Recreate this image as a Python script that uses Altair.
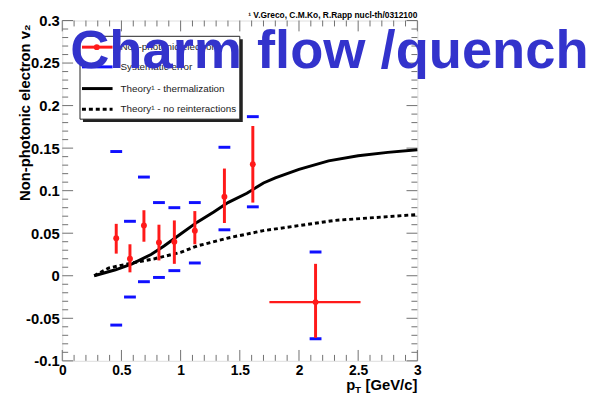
import altair as alt
import pandas as pd

W, H = 360, 345
FONT = "Liberation Sans"

# ---- data ----
pt      = [0.456, 0.572, 0.69, 0.817, 0.947, 1.12, 1.37, 1.61, 2.14]
v2      = [0.044, 0.020, 0.059, 0.039, 0.040, 0.053, 0.093, 0.131, -0.031]
stat_lo = [0.026, 0.004, 0.040, 0.018, 0.014, 0.037, 0.062, 0.086, -0.073]
stat_hi = [0.061, 0.037, 0.077, 0.060, 0.065, 0.076, 0.126, 0.176, 0.014]
pt_lo   = [0.456, 0.572, 0.69, 0.817, 0.947, 1.12, 1.37, 1.61, 1.75]
pt_hi   = [0.456, 0.572, 0.69, 0.817, 0.947, 1.12, 1.37, 1.61, 2.52]
sys_lo  = [-0.058, -0.025, -0.007, -0.002, 0.006, 0.015, 0.054, 0.081, -0.074]
sys_hi  = [0.146, 0.064, 0.116, 0.086, 0.080, 0.086, 0.151, 0.187, 0.028]

th_pt = [0.27, 0.45, 0.59, 0.75, 0.86, 1.0, 1.14, 1.28, 1.4, 1.56, 1.7, 1.8, 2.0, 2.25, 2.5, 2.75, 3.0]
th_v2 = [0.0, 0.007, 0.014, 0.025, 0.035, 0.049, 0.063, 0.075, 0.086, 0.097, 0.109, 0.115, 0.125, 0.135, 0.141, 0.145, 0.148]

nr_pt = [0.27, 0.39, 0.59, 0.78, 1.0, 1.14, 1.42, 1.7, 1.95, 2.3, 2.6, 3.0]
nr_v2 = [0.0, 0.009, 0.015, 0.020, 0.0275, 0.035, 0.045, 0.053, 0.058, 0.065, 0.068, 0.072]

x_major = [0, 0.5, 1, 1.5, 2, 2.5, 3]
y_major = [-0.1, -0.05, 0, 0.05, 0.1, 0.15, 0.2, 0.25, 0.3]
x_minor = [round(i * 0.1, 2) for i in range(31) if i % 5 != 0]
y_minor = [round(-0.1 + i * 0.01, 3) for i in range(41) if i % 5 != 0]

legend_labels = ["Non-photonic electrons", "Systematic error",
                 "Theory¹ - thermalization", "Theory¹ - no reinteractions"]

RED = "#ff1a1a"
BLUE = "#1010ff"
FRAME = "#707070"

xs = alt.Scale(domain=[0, 3], nice=False, zero=False)
ys = alt.Scale(domain=[-0.1, 0.3], nice=False, zero=False)

xaxis = alt.Axis(values=x_major, labelExpr="'' + datum.value", ticks=False, tickSize=0,
                 domain=False, grid=False, labelFont=FONT, labelFontSize=14,
                 labelFontWeight="bold", labelColor="black", labelPadding=3,
                 labelFlush=False, labelOverlap=False, title=None)
yaxis = alt.Axis(values=y_major, labelExpr="'' + datum.value", ticks=False, tickSize=0,
                 domain=False, grid=False, labelFont=FONT, labelFontSize=15,
                 labelFontWeight="bold", labelColor="black", labelPadding=3,
                 labelFlush=False, labelOverlap=False, title=None)


def X(f):
    return alt.X(f, type="quantitative", scale=xs, axis=xaxis)


def Y(f):
    return alt.Y(f, type="quantitative", scale=ys, axis=yaxis)


one = pd.DataFrame({"d": [0]})
layers = []

# ---- inward ROOT-style ticks ----
def xticks(vals, length):
    df = pd.DataFrame({"v": vals})
    base = alt.Chart(df).mark_rule(color=FRAME, strokeWidth=1)
    return [base.encode(x=X("v"), y=alt.value(H), y2=alt.value(H - length)),
            base.encode(x=X("v"), y=alt.value(0), y2=alt.value(length))]


def yticks(vals, length):
    df = pd.DataFrame({"v": vals})
    base = alt.Chart(df).mark_rule(color=FRAME, strokeWidth=1)
    return [base.encode(y=Y("v"), x=alt.value(0), x2=alt.value(length)),
            base.encode(y=Y("v"), x=alt.value(W), x2=alt.value(W - length))]


layers += xticks(x_major, 11) + xticks(x_minor, 6)
layers += yticks(y_major, 11) + yticks(y_minor, 6)

# ---- data ----
df = pd.DataFrame({"pt": pt, "v2": v2, "lo": stat_lo, "hi": stat_hi,
                   "xlo": pt_lo, "xhi": pt_hi})
sys_df = pd.DataFrame({"pt": pt + pt, "s": sys_lo + sys_hi})
th_df = pd.DataFrame({"pt": th_pt, "v2": th_v2})
nr_df = pd.DataFrame({"pt": nr_pt, "v2": nr_v2})

layers.append(alt.Chart(th_df).mark_line(color="black", strokeWidth=3)
              .encode(x=X("pt"), y=Y("v2")))
layers.append(alt.Chart(nr_df).mark_line(color="black", strokeWidth=3, strokeDash=[4, 3])
              .encode(x=X("pt"), y=Y("v2")))
layers.append(alt.Chart(sys_df).mark_tick(orient="horizontal", size=12, thickness=3,
                                          color=BLUE, opacity=1)
              .encode(x=X("pt"), y=Y("s")))
layers.append(alt.Chart(df).mark_rule(color=RED, strokeWidth=3)
              .encode(x=X("pt"), y=Y("lo"), y2="hi"))
layers.append(alt.Chart(df).mark_rule(color=RED, strokeWidth=2.5)
              .encode(x=X("xlo"), x2="xhi", y=Y("v2")))
layers.append(alt.Chart(df).mark_circle(color=RED, size=36, opacity=1)
              .encode(x=X("pt"), y=Y("v2")))

# ---- legend box ----
LX0, LX1, LY0, LY1 = 18, 180, 16, 100
layers.append(alt.Chart(one).mark_rect(fill="#222222")
              .encode(x=alt.value(LX0 + 3), x2=alt.value(LX1 + 3),
                      y=alt.value(LY0 + 3), y2=alt.value(LY1 + 3)))
layers.append(alt.Chart(one).mark_rect(fill="white", stroke="#222222", strokeWidth=1)
              .encode(x=alt.value(LX0), x2=alt.value(LX1),
                      y=alt.value(LY0), y2=alt.value(LY1)))
rows = [27, 47, 69, 90]
sym_styles = [(RED, 3, None), (BLUE, 3, None), ("black", 3, None), ("black", 3, [4, 3])]
for lab, ry, (col, sw, dash) in zip(legend_labels, rows, sym_styles):
    kw = dict(color=col, strokeWidth=sw)
    if dash:
        kw["strokeDash"] = dash
    layers.append(alt.Chart(one).mark_rule(**kw)
                  .encode(x=alt.value(LX0 + 2), x2=alt.value(LX0 + 33), y=alt.value(ry)))
    layers.append(alt.Chart(one).mark_text(text=lab, font=FONT, fontSize=10, color="#222222",
                                           align="left", baseline="middle")
                  .encode(x=alt.value(LX0 + 41), y=alt.value(ry)))
layers.append(alt.Chart(one).mark_circle(color=RED, size=36, opacity=1)
              .encode(x=alt.value(LX0 + 17), y=alt.value(rows[0])))

# ---- texts ----
layers.append(alt.Chart(one).mark_text(text="¹ V.Greco, C.M.Ko, R.Rapp nucl-th/0312100",
                                       font=FONT, fontSize=8.5, fontWeight="bold",
                                       color="black", align="right", baseline="alphabetic")
              .encode(x=alt.value(W), y=alt.value(-3)))
layers.append(alt.Chart(one).mark_text(text="Non-photonic electron v₂", font=FONT,
                                       fontSize=15, fontWeight="bold", color="black",
                                       angle=270, align="right", baseline="middle")
              .encode(x=alt.value(-38), y=alt.value(4)))
layers.append(alt.Chart(one).mark_text(text="[GeV/c]", font=FONT, fontSize=15,
                                       fontWeight="bold", color="black", align="right",
                                       baseline="alphabetic")
              .encode(x=alt.value(W), y=alt.value(H + 30)))
layers.append(alt.Chart(one).mark_text(text="T", font=FONT, fontSize=10,
                                       fontWeight="bold", color="black", align="right",
                                       baseline="alphabetic")
              .encode(x=alt.value(W - 57), y=alt.value(H + 33)))
layers.append(alt.Chart(one).mark_text(text="p", font=FONT, fontSize=15,
                                       fontWeight="bold", color="black", align="right",
                                       baseline="alphabetic")
              .encode(x=alt.value(W - 63), y=alt.value(H + 30)))
layers.append(alt.Chart(one).mark_text(text="Charm flow /quench", font=FONT, fontSize=55,
                                       fontWeight="bold", color="#3333cc", align="left",
                                       baseline="alphabetic")
              .encode(x=alt.value(8), y=alt.value(48)))

chart = alt.layer(*layers).properties(
    width=W, height=H,
    autosize=alt.AutoSizeParams(type="none"),
    padding={"left": 55, "top": 10, "right": 173, "bottom": 35},
).configure_view(stroke=FRAME, strokeWidth=1.5).configure(background="white")

chart.save("out.html", embed_options={"renderer": "svg", "actions": False})
